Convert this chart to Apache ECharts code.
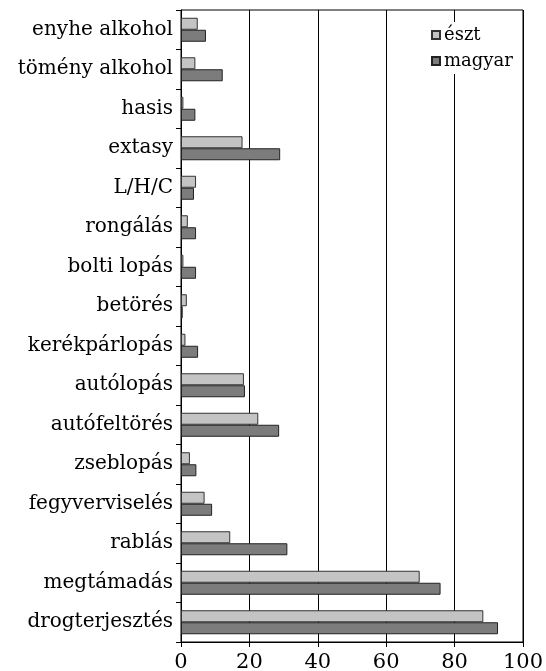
<!DOCTYPE html>
<html>
<head>
<meta charset="utf-8">
<script src="https://cdn.jsdelivr.net/npm/echarts@6/dist/echarts.min.js"></script>
<style>html,body{margin:0;padding:0;background:#fff}#c{width:546px;height:671px}</style>
</head>
<body>
<div id="c"></div>
<script>
const categories = ["enyhe alkohol","tömény alkohol","hasis","extasy","L/H/C","rongálás","bolti lopás","betörés","kerékpárlopás","autólopás","autófeltörés","zseblopás","fegyverviselés","rablás","megtámadás","drogterjesztés"];
const esztValues = [4.9,4.2,0.7,18.0,4.4,2.0,0.7,1.7,1.3,18.4,22.6,2.6,6.9,14.4,69.8,88.4];
const magyarValues = [7.3,12.2,4.2,29.0,3.8,4.4,4.4,0.5,5.0,18.7,28.7,4.5,9.1,31.1,75.9,92.7];
const seriesNames = ["észt","magyar"];
const xTicks = [0,20,40,60,80,100];

const FONT = "DejaVu Serif";
const chart = echarts.init(document.getElementById('c'), null, {renderer:'canvas'});
chart.setOption({
  animation:false,
  backgroundColor:'#fff',
  grid:{left:181,right:23,top:10,bottom:29,show:true,borderColor:'#000',borderWidth:1,containLabel:false,outerBoundsMode:'none'},
  legend:{
    data:seriesNames, orient:'vertical', left:425, top:22,
    itemWidth:8, itemHeight:8, itemGap:8,
    backgroundColor:'#fff', padding:[4,6,4,6],
    textStyle:{fontFamily:FONT,fontSize:18,color:'#000',padding:[0,0,0,-1]},
    icon:'rect'
  },
  xAxis:{
    type:'value', min:xTicks[0], max:xTicks[xTicks.length-1], interval:20,
    axisLine:{show:true,lineStyle:{color:'#000',width:1}},
    axisTick:{show:true,length:5,lineStyle:{color:'#000'}},
    axisLabel:{fontFamily:FONT,fontSize:21,color:'#000',margin:10,formatter:v=>String(v)},
    splitLine:{show:true,lineStyle:{color:'#000',width:1}}
  },
  yAxis:{
    type:'category', data:categories, inverse:true,
    axisLine:{show:true,lineStyle:{color:'#000',width:1}},
    axisTick:{show:true,length:5,lineStyle:{color:'#000'}},
    axisLabel:{fontFamily:FONT,fontSize:20,color:'#000',margin:8,padding:[7,0,0,0]}
  },
  series:[
    {name:seriesNames[0],type:'bar',data:esztValues,barWidth:12,barGap:'0%',
     itemStyle:{color:'#c4c4c4',borderColor:'#333',borderWidth:1}},
    {name:seriesNames[1],type:'bar',data:magyarValues,barWidth:12,barGap:'0%',
     itemStyle:{color:'#7c7c7c',borderColor:'#222',borderWidth:1}}
  ]
});
</script>
</body>
</html>
